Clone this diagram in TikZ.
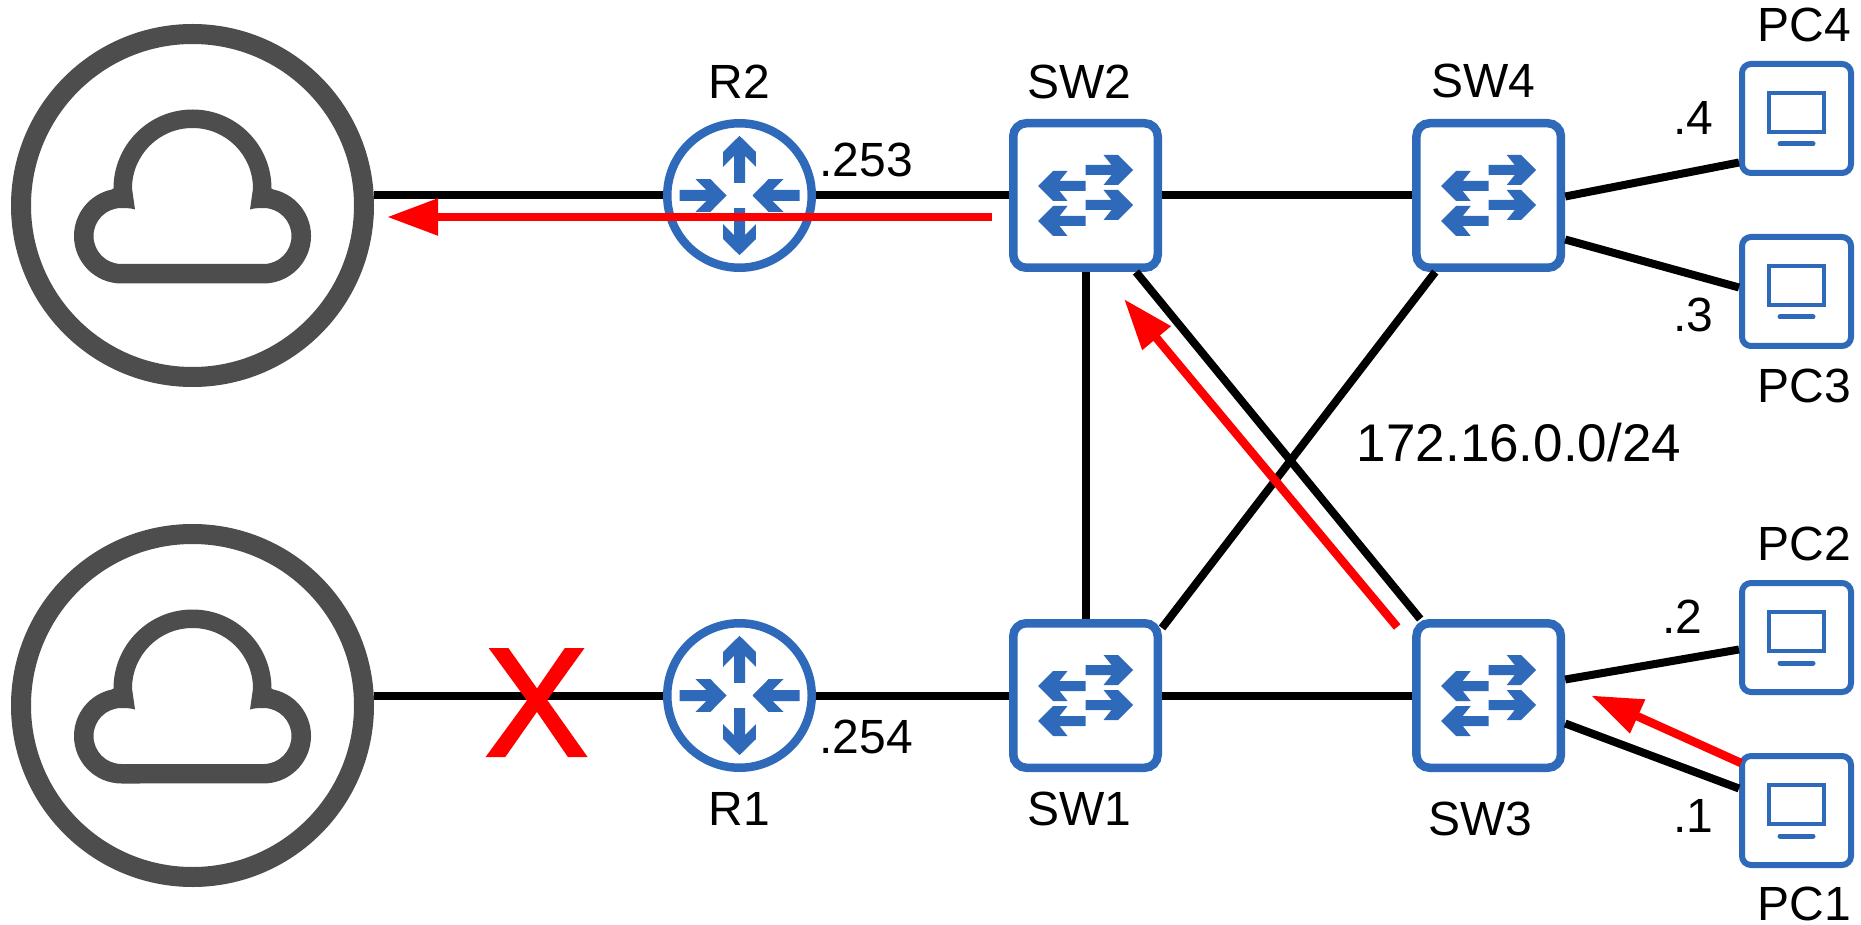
\documentclass[tikz,border=0pt]{standalone}
\usepackage{fontspec}
\setmainfont{Liberation Sans}
\newfontfamily\crossfont[FakeBold=2]{Liberation Sans}
\usetikzlibrary{arrows.meta}
\definecolor{netblue}{HTML}{2F69BA}
\definecolor{netgray}{HTML}{4D4D4D}
\newcommand\myswarrow[3]{\fill[netblue,shift={(#1,#2)},rotate=#3] (0,-5)--(26,-5)--(18,-15)--(32.5,-15)--(47.5,0)--(32.5,15)--(18,15)--(26,5)--(0,5)--cycle;}
\newcommand\myrtarrow[3]{\fill[netblue,shift={(#1,#2)},rotate=#3] (0,-5.5)--(27,-5.5)--(16,-16.3)--(31,-16.3)--(47,0)--(31,16.3)--(16,16.3)--(27,5.5)--(0,5.5)--cycle;}
\tikzset{
  cloudbox/.style={circle,draw=netgray,fill=white,line width=20pt,minimum size=343pt,inner sep=0pt,outer sep=10pt},
  routerbox/.style={circle,draw=netblue,fill=white,line width=8.5pt,minimum size=144.5pt,inner sep=0pt,outer sep=4.25pt},
  switchbox/.style={rectangle,rounded corners=13pt,draw=netblue,fill=white,line width=8.5pt,minimum size=144.5pt,inner sep=0pt,outer sep=4.25pt},
  pcbox/.style={rectangle,rounded corners=9pt,draw=netblue,fill=white,line width=6pt,minimum size=109pt,inner sep=0pt,outer sep=3pt},
  link/.style={line width=8pt,black},
  flow/.style={line width=8.5pt,red,-{Triangle[length=51pt,width=35pt]}},
  lab/.style={anchor=base,inner sep=0pt,font=\fontsize{48}{48}\selectfont},
  cloudicon/.pic={
    \fill[netgray,even odd rule]
      (-79,-17) arc[start angle=180,end angle=0,radius=79pt]
      -- (80.9,-16) arc[start angle=78,end angle=-90,radius=47.5pt]
      -- (-71,78) arc[start angle=270,end angle=102,radius=47.5pt] -- cycle
      (-60.5,-17) arc[start angle=180,end angle=0,radius=60.5pt]
      -- (57.5,4) .. controls (61,2.8) and (65,2.5) .. (71,2.5)
      arc[start angle=90,end angle=-90,radius=28pt]
      -- (-71,58.5) arc[start angle=270,end angle=90,radius=28pt]
      .. controls (-65,2.5) and (-61,2.8) .. (-57.5,4) -- cycle;
  },
  routericon/.pic={
    \myrtarrow{-60}{0}{0}\myrtarrow{60}{0}{180}\myrtarrow{0}{-12.7}{90}\myrtarrow{0}{12.7}{-90}
  },
  switchicon/.pic={
    \myswarrow{0}{-25.5}{0}\myswarrow{0}{9.5}{0}\myswarrow{0}{-9.5}{180}\myswarrow{0}{25.5}{180}
  },
  pcicon/.pic={
    \draw[netblue,line width=4pt] (-27.5,-25.5) rectangle (27.5,13.5);
    \draw[netblue,line width=5pt,line cap=round] (-16.5,25.5) -- (16.5,25.5);
  }
}
\begin{document}
\begin{tikzpicture}[x=1pt,y=-1pt]
\useasboundingbox (0,0) rectangle (1861,925);
\node[cloudbox] (cloud2) at (192.5,205.5) {};
\node[cloudbox] (cloud1) at (192.5,705.5) {};
\node[routerbox] (r2) at (739.5,195.5) {};
\node[routerbox] (r1) at (739.5,695.5) {};
\node[switchbox] (sw2) at (1085.5,195.5) {};
\node[switchbox] (sw1) at (1085.5,695.5) {};
\node[switchbox] (sw4) at (1488.7,195.5) {};
\node[switchbox] (sw3) at (1488.7,695.5) {};
\node[pcbox] (pc4) at (1796.5,118.5) {};
\node[pcbox] (pc3) at (1796.5,291.5) {};
\node[pcbox] (pc2) at (1796.5,637.5) {};
\node[pcbox] (pc1) at (1796.5,810.5) {};
\pic at (cloud2) {cloudicon};
\pic at (cloud1) {cloudicon};
\pic at (r2) {routericon};
\pic at (r1) {routericon};
\foreach \n in {sw1,sw2,sw3,sw4} {\pic at (\n) {switchicon};}
\foreach \n in {pc1,pc2,pc3,pc4} {\pic at (\n) {pcicon};}
% links
\draw[link] ([yshift=10pt]cloud2.east) -- (r2.west);
\draw[link] (r2.east) -- (sw2.west);
\draw[link] (sw2.east) -- (sw4.west);
\draw[link] (sw2.south) -- (sw1.north);
\draw[link] ([xshift=-26pt]sw2.south east) -- ([xshift=8pt]sw3.north west);
\draw[link] ([xshift=23pt]sw4.south west) -- ([yshift=-9pt]sw1.north east);
\draw[link] ([yshift=10pt]cloud1.east) -- (r1.west);
\draw[link] (r1.east) -- (sw1.west);
\draw[link] (sw1.east) -- (sw3.west);
\draw[link] ([yshift=-1pt]sw4.east) -- ([yshift=-44pt]pc4.west);
\draw[link] ([yshift=-44pt]sw4.east) -- ([yshift=4pt]pc3.west);
\draw[link] ([yshift=16pt]sw3.east) -- ([yshift=-12pt]pc2.west);
\draw[link] ([yshift=-28pt]sw3.east) -- ([yshift=22pt]pc1.west);
% cross
\node[inner sep=0pt,text=red,font=\crossfont\fontsize{154}{154}\selectfont,anchor=base] (cross) at (536.5,755.5) {X};
% flows
\draw[flow] ([xshift=-17pt,yshift=-21.5pt]sw2.west) -- ([xshift=13pt,yshift=-11.5pt]cloud2.east);
\draw[flow] ([xshift=-15pt,yshift=-8pt]sw3.north west) -- ([xshift=38.5pt,yshift=-27pt]sw2.south);
\draw[flow] ([xshift=2pt,yshift=-10pt]pc1.north west) -- ([xshift=26pt,yshift=0pt]sw3.east);
% labels
\node[lab] (lr2) at (739.5,99) {R2};
\node[lab] (lsw2) at (1079,99) {SW2};
\node[lab] (lsw4) at (1483,98) {SW4};
\node[lab] (lpc4) at (1804,42) {PC4};
\node[lab] (l253) at (866,177) {.253};
\node[lab] (l4) at (1693,135) {.4};
\node[lab] (l3) at (1693,332) {.3};
\node[lab] (lpc3) at (1804,402) {PC3};
\node[lab,font=\fontsize{53}{53}\selectfont] (lnet) at (1519,461) {172.16.0.0/24};
\node[lab] (lpc2) at (1804,560) {PC2};
\node[lab] (l2) at (1682,633) {.2};
\node[lab] (l1) at (1693,832) {.1};
\node[lab] (lpc1) at (1804,920) {PC1};
\node[lab] (lsw3) at (1480,835) {SW3};
\node[lab] (lsw1) at (1079,825) {SW1};
\node[lab] (lr1) at (739.5,825) {R1};
\node[lab] (l254) at (866,753) {.254};
\end{tikzpicture}
\end{document}
